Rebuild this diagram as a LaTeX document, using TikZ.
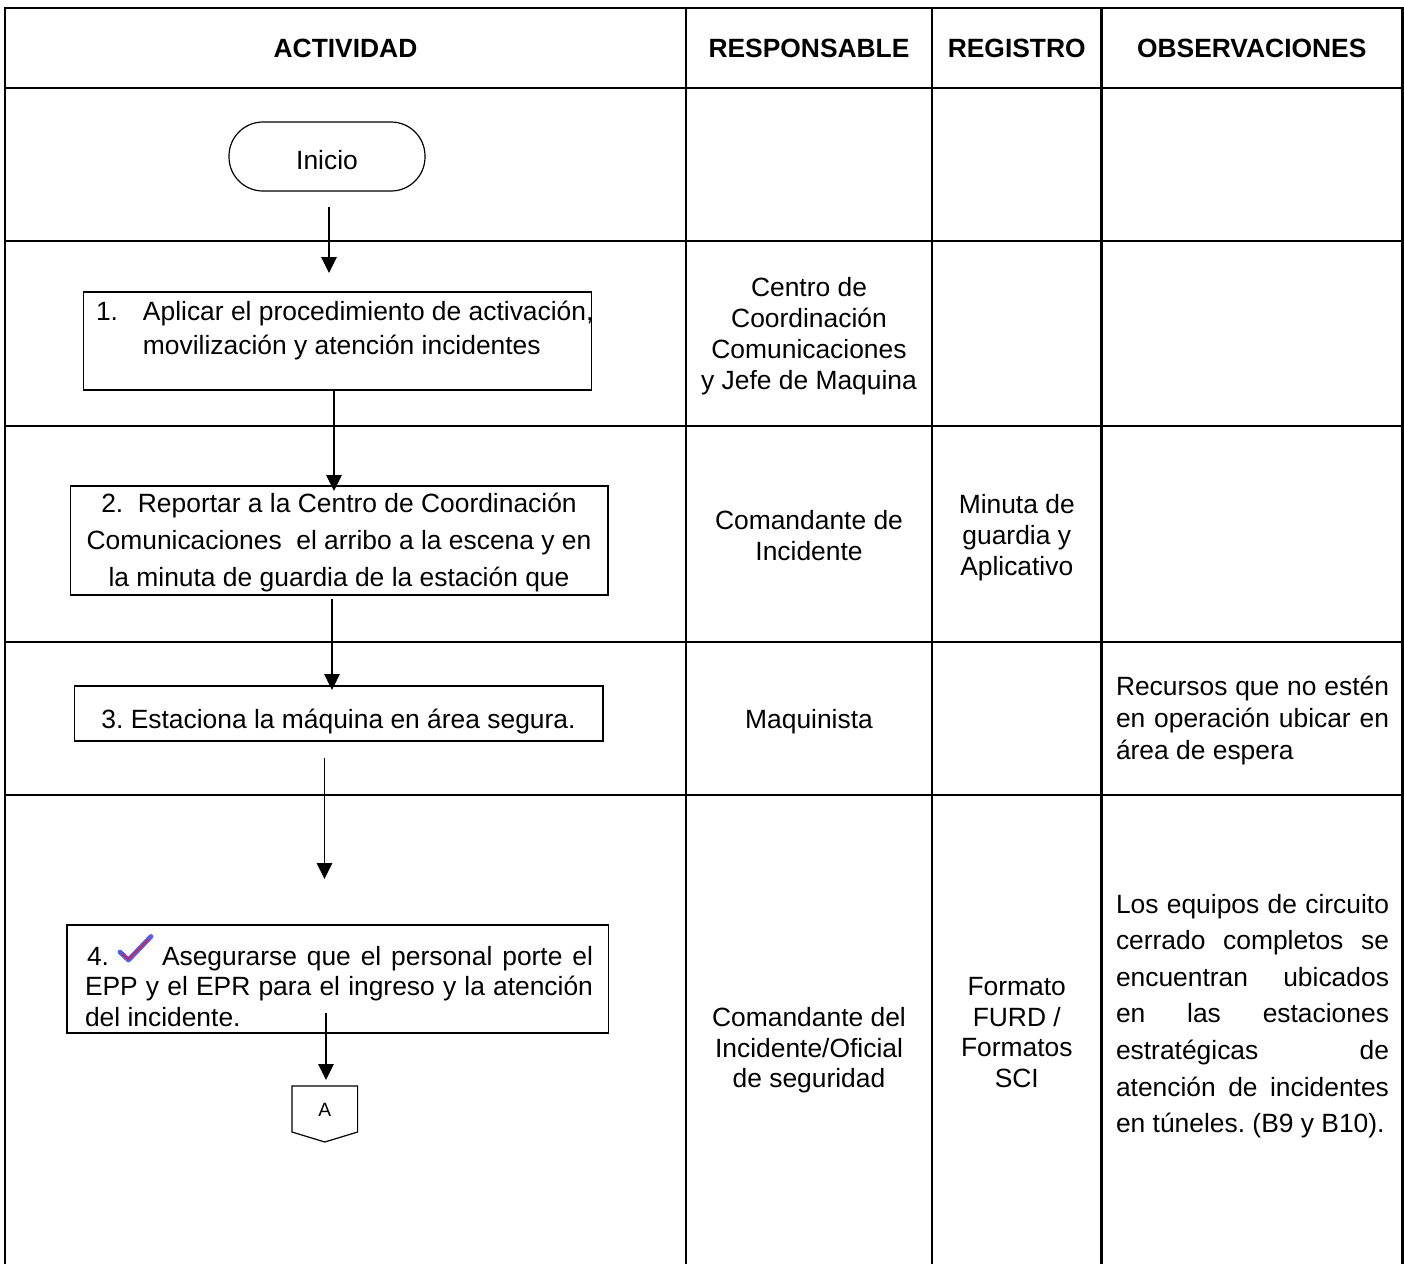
\documentclass[tikz,border=0pt]{standalone}
\usepackage{fontspec}
\setmainfont{Liberation Sans}
\usetikzlibrary{arrows.meta}
\definecolor{chkblue}{RGB}{85,95,225}
\definecolor{chkred}{RGB}{225,25,70}
\frenchspacing
\begin{document}
\begin{tikzpicture}[x=0.5pt,y=-0.5pt,
  grid/.style={line width=1.15pt, line cap=rect},
  actbox/.style={draw, line width=0.8pt, rectangle, inner sep=0pt, outer sep=0pt},
  startbox/.style={draw, line width=0.6pt, rectangle, rounded corners=17pt, inner sep=0pt, outer sep=0pt},
  arr/.style={line width=0.6pt, -{Triangle[length=8pt,width=7.8pt]}},
  head/.style={font=\fontsize{13.2}{15.5}\selectfont\bfseries, inner sep=0pt},
  body/.style={font=\fontsize{13.2}{15.5}\selectfont, inner sep=0pt, outer sep=0pt, align=center},
]
\useasboundingbox (0,0) rectangle (1404,1264);

% table grid
\draw[grid] (5,1264) -- (5,8) -- (1402.5,8) -- (1402.5,1264);
\foreach \yy in {88,241,426,642,795} \draw[grid] (5,\yy) -- (1402.5,\yy);
\foreach \xx in {686,932,1101.5} \draw[grid] (\xx,8) -- (\xx,1264);

% headers
\node[head] (hA) at (345.5,48) {ACTIVIDAD};
\node[head] (hR) at (809,48) {RESPONSABLE};
\node[head] (hG) at (1016.75,48) {REGISTRO};
\node[head] (hO) at (1251.75,48) {OBSERVACIONES};

% flow shapes
\node[startbox, minimum width=98pt, minimum height=34.5pt] (inicio) at (327,156.5) {};
\node[body] (inicioT) at (327,160) {Inicio};

\node[actbox, minimum width=254pt, minimum height=49pt] (b1) at (337.5,341) {};
\node[body, align=left, font=\fontsize{13.2}{17}\selectfont, anchor=west] (t1) at (96,331)
  {\makebox[23.5pt][l]{1.}Aplicar el procedimiento de activación,\\\hspace*{23.5pt}movilización y atención incidentes};

\node[actbox, minimum width=268.75pt, minimum height=54.5pt] (b2) at (339.25,540.5) {};
\node[body, font=\fontsize{13.2}{18.5}\selectfont] (t2) at (339,543)
  {2.\ \ Reportar a la Centro de Coordinación\\Comunicaciones\ \ el arribo a la escena y en\\la minuta de guardia de la estación que};

\node[actbox, minimum width=264.25pt, minimum height=27.5pt] (b3) at (338.75,713.5) {};
\node[body, anchor=base] (t3) at (338.5,728) {3. Estaciona la máquina en área segura.};

\node[actbox, minimum width=270.75pt, minimum height=54pt] (b4) at (337.75,979) {};
\node[body, anchor=base west] (t4a) at (87,965) {4.};
\node[body, anchor=base west] (t4b) at (162,965) {\makebox[215.5pt][s]{Asegurarse que el personal porte el}};
\node[body, anchor=base west] (t4c) at (85,995.5) {\makebox[254pt][s]{EPP y el EPR para el ingreso y la atención}};
\node[body, anchor=base west] (t4d) at (85,1026.5) {del incidente.};
% check mark
\draw[line width=2.4pt, chkblue, line cap=round, line join=round] (120,952) -- (128.5,960) -- (151,936.5);
\draw[line width=0.7pt, chkred, line cap=round, line join=round] (121.5,953.5) -- (128.5,959) -- (148.5,939.5);

% off-page connector A
\node[inner sep=0pt, outer sep=0pt, minimum width=32.8pt, minimum height=23pt] (A) at (324.8,1109) {};
\draw[line width=0.6pt] (A.north west) -- (A.north east) -- (A.south east) -- ([yshift=-5pt]A.south) -- (A.south west) -- cycle;
\node[inner sep=0pt, font=\fontsize{9.6}{11}\selectfont] (Alabel) at (324.8,1110) {A};

% connectors
\coordinate (k1) at (329,0);
\coordinate (k2) at (334,0);
\coordinate (k3) at (332,0);
\coordinate (k4) at (324.5,0);
\coordinate (k5) at (326,0);
\draw[arr, shorten <=8pt, shorten >=9.5pt] (inicio.south -| k1) -- (b1.north -| k1);
\draw[arr, shorten >=-2.5pt] (b1.south -| k2) -- (b2.north -| k2);
\draw[arr, shorten <=2pt, shorten >=-2pt] (b2.south -| k3) -- (b3.north -| k3);
\draw[arr, shorten <=8.5pt, shorten >=23pt] (b3.south -| k4) -- (b4.north -| k4);
\draw[arr, shorten <=-10pt, shorten >=3pt] (b4.south -| k5) -- (A.north -| k5);

% responsable column
\node[body] (r1) at (809,336) {Centro de\\Coordinación\\Comunicaciones\\y Jefe de Maquina};
\node[body] (r2) at (809,535.5) {Comandante de\\Incidente};
\node[body] (r3) at (809,721.5) {Maquinista};
\node[body, font=\fontsize{13.2}{15.2}\selectfont] (r4) at (809,1050.5) {Comandante del\\Incidente/Oficial\\de seguridad};

% registro column
\node[body] (g2) at (1016.75,537.5) {Minuta de\\guardia y\\Aplicativo};
\node[body, font=\fontsize{13.2}{15.2}\selectfont] (g4) at (1016.75,1032.5) {Formato\\FURD /\\Formatos\\SCI};

% observaciones column
\node[body, align=left, anchor=west, font=\fontsize{13.2}{15.85}\selectfont] (o3) at (1116,720.5)
  {\makebox[136.5pt][s]{Recursos que no estén}\\\makebox[136.5pt][s]{en operación ubicar en}\\área de espera};
\node[body, align=left, anchor=west, font=\fontsize{13.2}{18.3}\selectfont] (o4) at (1116,1016)
  {\makebox[136.5pt][s]{Los equipos de circuito}\\
   \makebox[136.5pt][s]{cerrado completos se}\\
   \makebox[136.5pt][s]{encuentran ubicados}\\
   \makebox[136.5pt][s]{en las estaciones}\\
   \makebox[136.5pt][s]{estratégicas de}\\
   \makebox[136.5pt][s]{atención de incidentes}\\
   en túneles. (B9 y B10).};
\end{tikzpicture}
\end{document}
